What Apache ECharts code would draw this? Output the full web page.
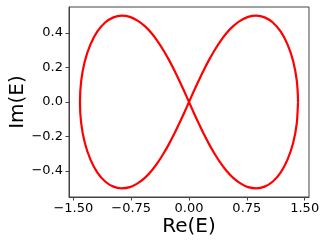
<!DOCTYPE html>
<html>
<head>
<meta charset="utf-8">
<script src="https://cdn.jsdelivr.net/npm/echarts@6/dist/echarts.min.js"></script>
<style>
html,body{margin:0;padding:0;background:#fff;}
#c{width:329px;height:247px;}
</style>
</head>
<body>
<div id="c"></div>
<script>
// Values
var reE = [
  1.414,1.398,1.352,1.280,1.190,1.087,0.980,0.872,0.767,0.667,0.573,0.485,0.404,0.328,0.257,0.189,0.125,0.062,0,
  -0.062,-0.125,-0.189,-0.257,-0.328,-0.404,-0.485,-0.573,-0.667,-0.767,-0.872,-0.980,-1.087,-1.190,-1.280,-1.352,-1.398,-1.414,
  -1.398,-1.352,-1.280,-1.190,-1.087,-0.980,-0.872,-0.767,-0.667,-0.573,-0.485,-0.404,-0.328,-0.257,-0.189,-0.125,-0.062,0,
  0.062,0.125,0.189,0.257,0.328,0.404,0.485,0.573,0.667,0.767,0.872,0.980,1.087,1.190,1.280,1.352,1.398,1.414
];
var imE = [
  0,0.122,0.235,0.331,0.407,0.460,0.490,0.500,0.493,0.471,0.439,0.398,0.350,0.297,0.241,0.183,0.123,0.062,0,
  -0.062,-0.123,-0.183,-0.241,-0.297,-0.350,-0.398,-0.439,-0.471,-0.493,-0.500,-0.490,-0.460,-0.407,-0.331,-0.235,-0.122,0,
  0.122,0.235,0.331,0.407,0.460,0.490,0.500,0.493,0.471,0.439,0.398,0.350,0.297,0.241,0.183,0.123,0.062,0,
  -0.062,-0.123,-0.183,-0.241,-0.297,-0.350,-0.398,-0.439,-0.471,-0.493,-0.500,-0.490,-0.460,-0.407,-0.331,-0.235,-0.122,0
];
var xTicks = [-1.5, -0.75, 0, 0.75, 1.5];
var yTicks = [-0.4, -0.2, 0, 0.2, 0.4];

var pts = reE.map(function(v, i){ return [v, imE[i]]; });
var font = 'DejaVu Sans';
function minus(s){ return s.replace('-', '\u2212'); }

var chart = echarts.init(document.getElementById('c'), null, {renderer:'canvas'});
chart.setOption({
  animation: false,
  backgroundColor: '#fff',
  grid: {left: 69, top: 7, width: 240, height: 190, containLabel: false, outerBoundsMode: 'none',
    show: true, borderColor: '#444', borderWidth: 1, backgroundColor: 'transparent'},
  xAxis: {
    type: 'value', min: -1.556, max: 1.556,
    name: 'Re(E)', nameLocation: 'middle', nameGap: 20, nameMoveOverlap: false,
    nameTextStyle: {fontFamily: font, fontSize: 20, color: '#000'},
    axisLine: {show: true, onZero: false, lineStyle: {color: '#444', width: 1}},
    axisTick: {show: true, length: 3.5, inside: false, customValues: xTicks, lineStyle: {color: '#444'}},
    axisLabel: {customValues: xTicks, margin: 5, fontFamily: font, fontSize: 13, color: '#000',
      formatter: function(v){ return minus(v.toFixed(2)); }},
    splitLine: {show: false}
  },
  yAxis: {
    type: 'value', min: -0.55, max: 0.55,
    name: 'Im(E)', nameLocation: 'middle', nameGap: 41, nameRotate: 90, nameMoveOverlap: false,
    nameTextStyle: {fontFamily: font, fontSize: 20, color: '#000'},
    axisLine: {show: true, onZero: false, lineStyle: {color: '#444', width: 1}},
    axisTick: {show: true, length: 3.5, inside: false, customValues: yTicks, lineStyle: {color: '#444'}},
    axisLabel: {customValues: yTicks, margin: 6, fontFamily: font, fontSize: 13, color: '#000',
      formatter: function(v){ return minus(v.toFixed(1)); }},
    splitLine: {show: false}
  },
  series: [{
    type: 'line', data: pts, showSymbol: false, smooth: 0.4,
    lineStyle: {color: '#ff0000', width: 2.2},
    clip: false
  }]
});
</script>
</body>
</html>
